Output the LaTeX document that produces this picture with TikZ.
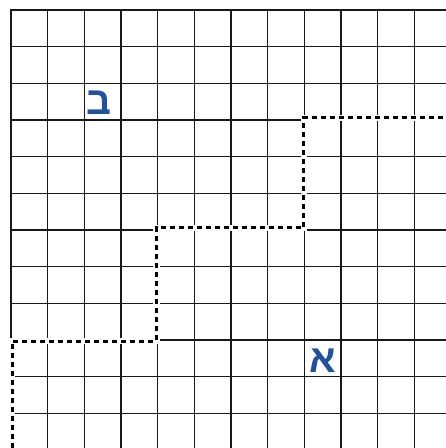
\documentclass[tikz,border=0pt]{standalone}
\usepackage{fontspec}
\newfontfamily\hebfont[Script=Hebrew]{Liberation Sans}
\TeXXeTstate=1
\definecolor{letterblue}{RGB}{33,82,160}
\tikzset{
  gridline/.style={line width=1.4pt, black!90, line cap=rect},
  stairback/.style={line width=6.5pt, white},
  stairline/.style={line width=3pt, black, dash pattern=on 5pt off 4pt},
  hebletter/.style={inner sep=0pt, text=letterblue, font=\hebfont\bfseries\fontsize{39}{39}\selectfont}
}
\begin{document}
\begin{tikzpicture}[x=36.67pt, y=-36.67pt]
	\useasboundingbox (-0.3,-0.273) rectangle (11.863,11.945);
	% grid
	\foreach \i in {0,...,11}
		\draw[gridline] (\i,0) -- (\i,11.945);
	\foreach \j in {0,...,11}
		\draw[gridline] (0,\j) -- (11.863,\j);
	% dotted staircase
	\draw[stairback] (0.03,11.945) -- (0.03,9.03) -- (3.97,9.03) -- (3.97,5.945) -- (7.99,5.945) -- (7.99,2.945) -- (11.863,2.945);
	\draw[stairline] (0.03,11.945) -- (0.03,9.03) -- (3.97,9.03) -- (3.97,5.945) -- (7.99,5.945) -- (7.99,2.945) -- (11.863,2.945);
	% letters
	\node[hebletter] (bet) at (2.4,2.54) {\beginR ב\endR};
	\node[hebletter] (alef) at (8.51,9.57) {\beginR א\endR};
\end{tikzpicture}
\end{document}
